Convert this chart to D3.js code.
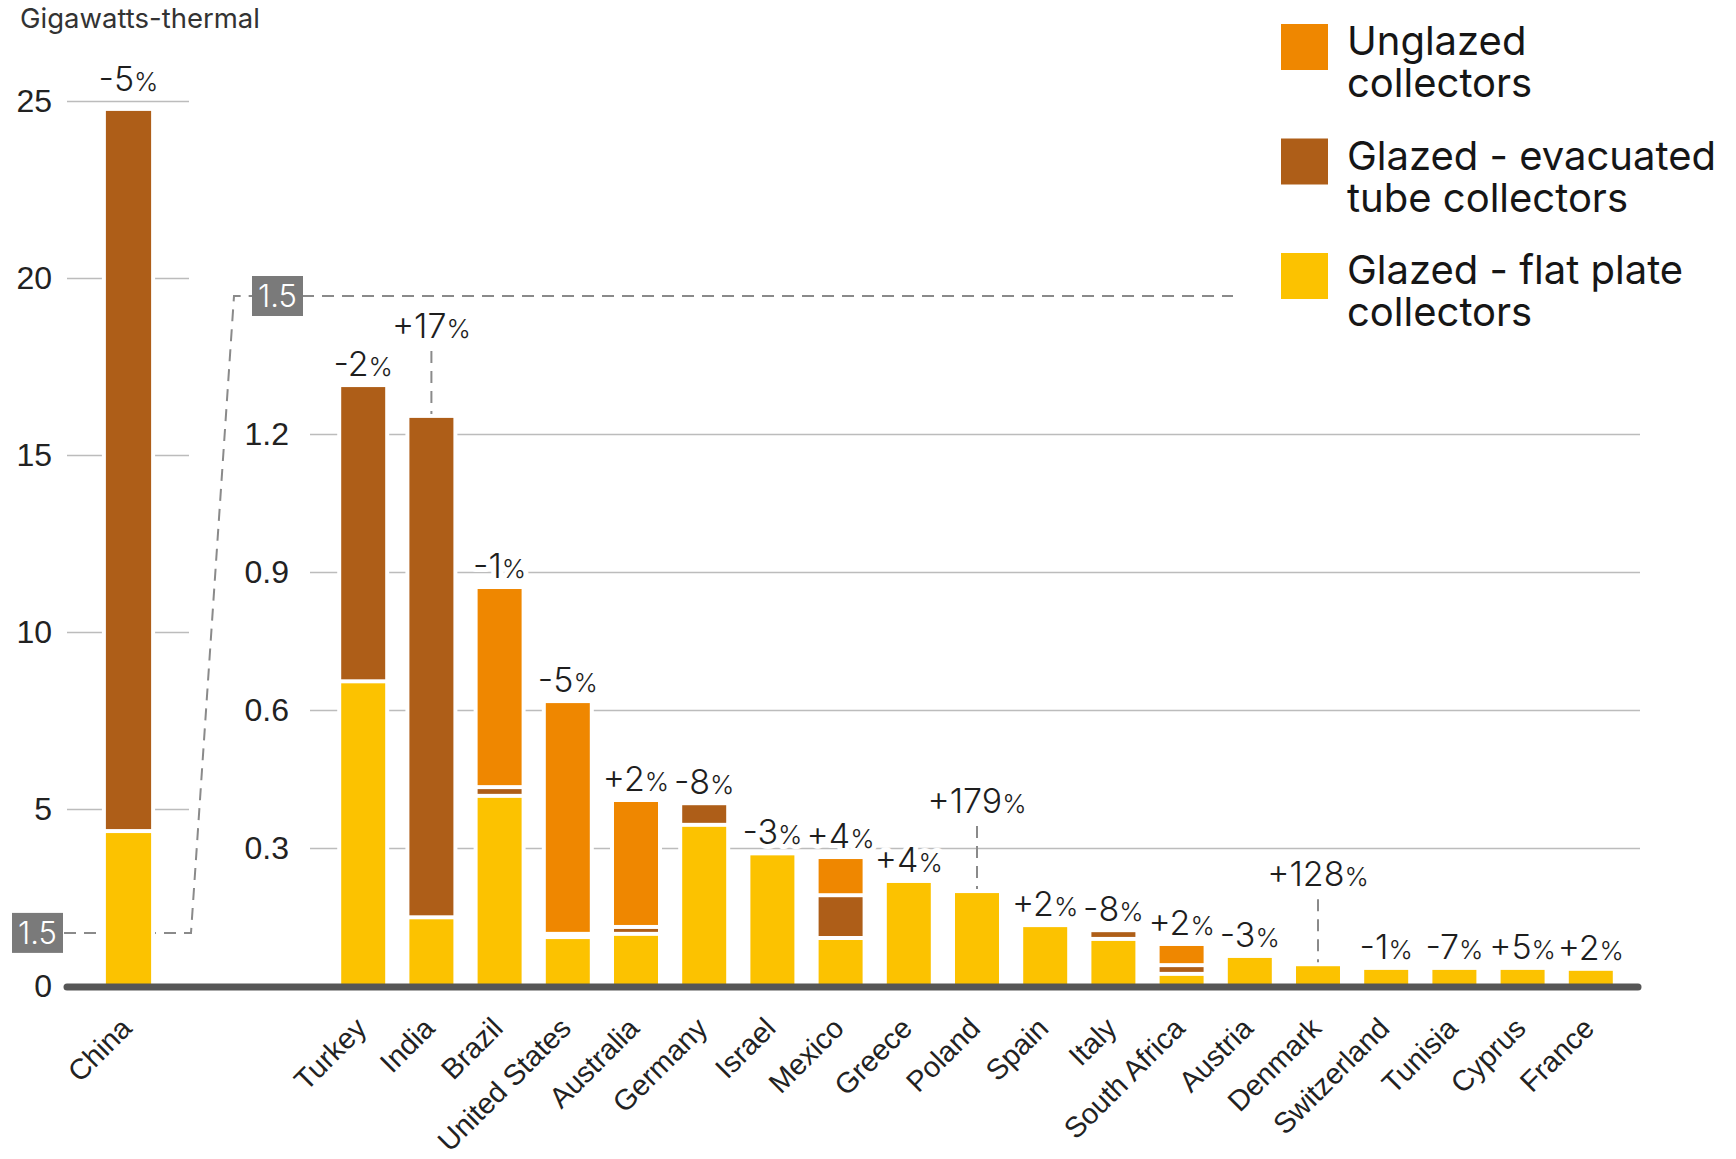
<!DOCTYPE html>
<html>
<head>
<meta charset="utf-8">
<script src="https://cdn.jsdelivr.net/npm/d3@7"></script>
<style>
  body { margin: 0; background: #fff; }
  svg { font-family: Inter, Roboto, sans-serif; }
</style>
</head>
<body>
<div id="chart"></div>
<script>
// ---- data ----
var chinaName = ["China"];
var chinaFlatPlate = [4.32];
var chinaEvacuated = [20.4];
var chinaUnglazed = [0];
var chinaChange = [-5];

var countries = ["Turkey", "India", "Brazil", "United States", "Australia", "Germany", "Israel",
  "Mexico", "Greece", "Poland", "Spain", "Italy", "South Africa", "Austria", "Denmark",
  "Switzerland", "Tunisia", "Cyprus", "France"];
var flatPlate = [0.658, 0.145, 0.409, 0.102, 0.109, 0.346, 0.284, 0.100, 0.224, 0.202,
  0.128, 0.098, 0.022, 0.061, 0.043, 0.035, 0.035, 0.035, 0.033];
var evacuated = [0.644, 1.09, 0.019, 0.007, 0.015, 0.047, 0, 0.093, 0, 0,
  0, 0.019, 0.019, 0, 0, 0, 0, 0, 0];
var unglazed = [0, 0, 0.435, 0.506, 0.276, 0, 0, 0.083, 0, 0,
  0, 0, 0.046, 0, 0, 0, 0, 0, 0];
var changes = [-2, 17, -1, -5, 2, -8, -3, 4, 4, 179, 2, -8, 2, -3, 128, -1, -7, 5, 2];
var leaderCountries = ["India", "Poland", "Denmark"];

var leftTicks = [0, 5, 10, 15, 20, 25];
var rightTicks = [0.3, 0.6, 0.9, 1.2];
var zoomValue = 1.5;

var seriesKeys = ["flat", "evac", "ungl"];
var legendKeys = ["ungl", "evac", "flat"];
var legendLabels = [["Unglazed", "collectors"], ["Glazed - evacuated", "tube collectors"], ["Glazed - flat plate", "collectors"]];

var colors = { ungl: "#ef8700", evac: "#ae5e18", flat: "#fcc200" };

// ---- setup ----
var svgWidth = 1736;
var svgHeight = 1159;
var baseY = 986;
var gap = 4;

var svg = d3.select("#chart")
  .append("svg")
  .attr("width", svgWidth)
  .attr("height", svgHeight);

function makeRows(names, f, e, u, ch) {
  return names.map((c, i) => ({ country: c, flat: f[i], evac: e[i], ungl: u[i], change: ch[i] }));
}
var chinaRows = makeRows(chinaName, chinaFlatPlate, chinaEvacuated, chinaUnglazed, chinaChange);
var rows = makeRows(countries, flatPlate, evacuated, unglazed, changes);

// scales
var xLeft = d3.scaleBand().domain(chinaName).range([81, 176]).padding(0.355);
var yLeft = d3.scaleLinear().domain([0, 25]).range([baseY, 101]);
var xRight = d3.scaleBand().domain(countries).range([317, 1637]).padding(0.355);
var yRight = d3.scaleLinear().domain([0, 1.5]).range([baseY, 296]);

// title
svg.append("text")
  .attr("x", 20).attr("y", 28)
  .style("font-size", "27.5px")
  .style("fill", "#333")
  .text("Gigawatts-thermal");

// gridline axes
function styleAxis(g) {
  g.select(".domain").remove();
  g.selectAll(".tick line").attr("stroke", "#bcbcbc").attr("stroke-width", 1.6);
  g.selectAll(".tick text")
    .style("font-size", "32px")
    .style("font-weight", 300)
    .style("fill", "#222");
  g.selectAll(".tick").filter(d => d === 0).select("line").remove();
}

svg.append("g")
  .attr("transform", "translate(67,0)")
  .call(d3.axisLeft(yLeft).tickValues(leftTicks).tickSize(-(189 - 67)).tickPadding(15))
  .call(styleAxis);

svg.append("g")
  .attr("transform", "translate(310,0)")
  .call(d3.axisLeft(yRight).tickValues(rightTicks).tickSize(-(1640 - 310)).tickPadding(21).tickFormat(d3.format(".1f")))
  .call(styleAxis);

// zoom connector
var dashStyle = g => g.attr("fill", "none").attr("stroke", "#8a8a8a").attr("stroke-width", 2).attr("stroke-dasharray", "12,8");

svg.append("path")
  .attr("d", `M64,${yLeft(zoomValue)} H191 L234,${yRight(zoomValue)} H252`)
  .call(dashStyle);
svg.append("line")
  .attr("x1", 302).attr("x2", 1233)
  .attr("y1", yRight(zoomValue)).attr("y2", yRight(zoomValue))
  .call(dashStyle);

function zoomBox(x, y) {
  svg.append("rect")
    .attr("x", x).attr("y", y - 20)
    .attr("width", 51).attr("height", 40)
    .attr("fill", "#7a7a7a");
  svg.append("text")
    .attr("x", x + 25.5).attr("y", y + 11)
    .attr("text-anchor", "middle")
    .style("font-size", "31px")
    .style("font-weight", 300)
    .style("fill", "#fff")
    .text(zoomValue);
}
zoomBox(12, yLeft(zoomValue));
zoomBox(252, yRight(zoomValue));

// bars
var stack = d3.stack().keys(seriesKeys);

function drawBars(data, x, y, labelOffset) {
  var series = stack(data);
  var total = d => d.flat + d.evac + d.ungl;

  // white halo behind each bar (cuts the gridlines)
  svg.append("g")
    .selectAll("rect")
    .data(data)
    .join("rect")
    .attr("x", d => x(d.country) - gap)
    .attr("y", d => y(total(d)) - gap)
    .attr("width", x.bandwidth() + 2 * gap)
    .attr("height", d => y(0) - y(total(d)) + gap)
    .attr("fill", "#fff");

  svg.append("g")
    .selectAll("g")
    .data(series)
    .join("g")
    .attr("fill", s => colors[s.key])
    .selectAll("rect")
    .data(s => s)
    .join("rect")
    .attr("x", d => x(d.data.country))
    .attr("y", d => y(d[1]))
    .attr("width", x.bandwidth())
    .attr("height", d => Math.max(0, y(d[0]) - y(d[1]) - (d[0] > 0 ? gap : 0)));

  // percentage labels
  var fmt = v => (v > 0 ? "+" : "") + v;
  var hasLeader = d => leaderCountries.indexOf(d.country) >= 0;
  var labels = svg.append("g")
    .selectAll("text")
    .data(data)
    .join("text")
    .attr("x", d => x(d.country) + x.bandwidth() / 2)
    .attr("y", d => y(total(d)) - (hasLeader(d) ? 80 : labelOffset))
    .attr("text-anchor", "middle")
    .style("font-size", "34px")
    .style("font-weight", 300)
    .style("fill", "#1e1e1e")
    .style("stroke", "#fff")
    .style("stroke-width", 10)
    .style("paint-order", "stroke")
    .style("stroke-linejoin", "round");
  labels.append("tspan").text(d => fmt(d.change));
  labels.append("tspan").style("font-size", "26px").text("%");

  svg.append("g")
    .selectAll("line")
    .data(data.filter(hasLeader))
    .join("line")
    .attr("x1", d => x(d.country) + x.bandwidth() / 2)
    .attr("x2", d => x(d.country) + x.bandwidth() / 2)
    .attr("y1", d => y(total(d)) - 67)
    .attr("y2", d => y(total(d)) - 4)
    .call(dashStyle);

  // country labels
  svg.append("g")
    .attr("transform", "translate(0,1030)")
    .call(d3.axisBottom(x).tickSize(0))
    .call(g => g.select(".domain").remove())
    .selectAll("text")
    .attr("x", 0).attr("y", 0).attr("dy", 0)
    .attr("transform", "translate(5,0) rotate(-45)")
    .attr("text-anchor", "end")
    .style("font-size", "29px")
    .style("fill", "#222");
}

drawBars(chinaRows, xLeft, yLeft, 20);
drawBars(rows, xRight, yRight, 11);

// baseline
svg.append("line")
  .attr("x1", 67).attr("x2", 1638)
  .attr("y1", baseY + 1).attr("y2", baseY + 1)
  .attr("stroke", "#565656")
  .attr("stroke-width", 7)
  .attr("stroke-linecap", "round");

// legend
var legend = svg.append("g")
  .selectAll("g")
  .data(legendKeys)
  .join("g")
  .attr("transform", (d, i) => `translate(1281, ${24 + i * 114.5})`);

legend.append("rect")
  .attr("width", 47).attr("height", 46)
  .attr("fill", d => colors[d]);

legend.append("text")
  .style("font-size", "40px")
  .style("fill", "#161616")
  .selectAll("tspan")
  .data((d, i) => legendLabels[i])
  .join("tspan")
  .attr("x", 66)
  .attr("y", (d, j) => 31 + j * 42)
  .text(d => d);
</script>
</body>
</html>
